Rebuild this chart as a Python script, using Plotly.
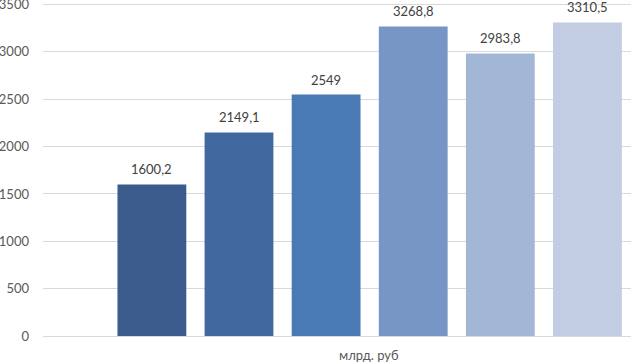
import plotly.graph_objects as go

categories = ["1", "2", "3", "4", "5", "6"]
values = [1600.2, 2149.1, 2549, 3268.8, 2983.8, 3310.5]
labels = ["1600,2", "2149,1", "2549", "3268,8", "2983,8", "3310,5"]
colors = ["#3B5B8C", "#42699F", "#4A7AB4", "#7795C5", "#A2B6D6", "#C2CCE3"]
yticks = [0, 500, 1000, 1500, 2000, 2500, 3000, 3500]
axis_title = "млрд. руб"

fig = go.Figure(go.Bar(x=categories, y=values, marker=dict(color=colors, line=dict(width=0)),
                       width=0.79, hoverinfo="skip"))

for i, (v, t) in enumerate(zip(values, labels)):
    fig.add_annotation(x=i, y=v, text=t, showarrow=False, yshift=15,
                       font=dict(family="Lato", size=13, color="#404040"))

fig.add_annotation(x=0.555, y=-0.028, xref="paper", yref="paper", text=axis_title,
                   showarrow=False, yanchor="top",
                   font=dict(family="Lato", size=13, color="#595959"))

fig.update_layout(
    width=631, height=363,
    margin=dict(l=43, r=0, t=0, b=27),
    paper_bgcolor="white", plot_bgcolor="white",
    showlegend=False,
    font=dict(family="Lato", size=13, color="#595959"),
    xaxis=dict(type="category", range=[-1.25, 5.5], showticklabels=False, showgrid=False,
               showline=True, linecolor="#D9D9D9", linewidth=1, zeroline=False),
    yaxis=dict(range=[0, 3548], tickmode="array", tickvals=yticks, ticktext=[str(v) for v in yticks],
               showgrid=True, gridcolor="#D9D9D9", gridwidth=1, zeroline=False,
               automargin=False, ticklabeloverflow="allow",
               ticklabelstandoff=13, tickfont=dict(family="Lato", size=13, color="#595959")),
)
fig.add_shape(type="line", xref="paper", x0=0, x1=1, yref="y", y0=yticks[-1], y1=yticks[-1],
              line=dict(color="#D9D9D9", width=1), layer="below")

fig.write_html("out.html", config={"displayModeBar": False},
               post_script="document.body.style.margin='0';")
